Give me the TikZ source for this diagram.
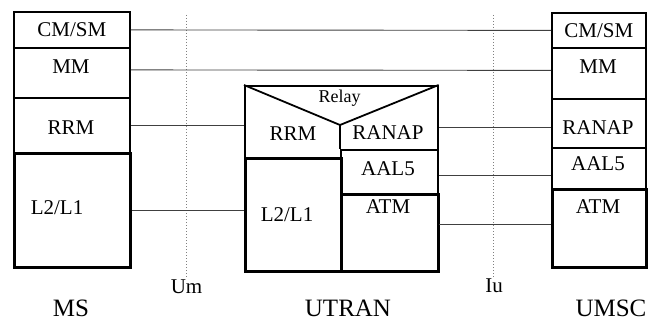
\documentclass[tikz,border=0pt]{standalone}
\usepackage{fontspec}
\setmainfont{Liberation Serif}
\usetikzlibrary{calc}
\begin{document}
\begin{tikzpicture}[x=1pt,y=-1pt,
  box/.style={draw,line width=1.8pt,inner sep=0pt,anchor=north west},
  thickbox/.style={box,line width=2.6pt},
  txt/.style={inner sep=0pt,font=\fontsize{21}{21}\selectfont},
  small/.style={inner sep=0pt,font=\fontsize{18}{18}\selectfont},
  iface/.style={inner sep=0pt,font=\fontsize{21}{21}\selectfont},
  big/.style={inner sep=0pt,font=\fontsize{25}{25}\selectfont},
  conn/.style={line width=0.9pt,black!75},
  sep/.style={line width=1pt,gray,dotted}]
\useasboundingbox (0,0) rectangle (651,321);
% MS stack
\node[box,minimum width=116pt,minimum height=36pt] (msCM) at (13,11) {};
\node[box,minimum width=116pt,minimum height=50pt] (msMM) at (13,47) {};
\node[box,minimum width=116pt,minimum height=55pt] (msRRM) at (13,97) {};
\node[thickbox,minimum width=116pt,minimum height=114pt] (msL2) at (13,152) {};
\node[txt] at (msCM.center) {CM/SM};
\node[txt] at (71,67) {MM};
\node[txt] at (71,128) {RRM};
\node[txt] at (57,208) {L2/L1};
% UMSC stack
\node[box,minimum width=94pt,minimum height=35pt] (umCM) at (551,12) {};
\node[box,minimum width=94pt,minimum height=51pt] (umMM) at (551,47) {};
\node[box,minimum width=94pt,minimum height=49pt] (umRANAP) at (551,98) {};
\node[box,minimum width=94pt,minimum height=41pt] (umAAL5) at (551,147) {};
\node[thickbox,minimum width=94pt,minimum height=78pt] (umATM) at (551,188) {};
\node[txt] at (umCM.center) {CM/SM};
\node[txt] at (598,67) {MM};
\node[txt] at (598,128) {RANAP};
\node[txt] at (598,164) {AAL5};
\node[txt] at (598,207) {ATM};
% UTRAN
\node[box,line width=1.6pt,minimum width=193pt,minimum height=185pt] (utran) at (244,85) {};
\coordinate (apex) at (340,125);
\node[thickbox,minimum width=96pt,minimum height=113pt] (uL2) at (244,157) {};
\node[box,minimum width=97pt,minimum height=44pt] (uAAL5) at (340,149) {};
\node[thickbox,minimum width=97pt,minimum height=77pt] (uATM) at (340,193) {};
\draw[line width=1.8pt] (utran.north west) -- (apex) -- (utran.north east);
\draw[line width=1.8pt] (apex) -- (apex |- uAAL5.north);
\node[small] at (339.5,98.5) {Relay};
\node[txt] at (293,134) {RRM};
\node[txt] at (388,133) {RANAP};
\node[txt] at (388,169) {AAL5};
\node[txt] at (388,207) {ATM};
\node[txt] at (287,215) {L2/L1};
% separators
\coordinate (umTop) at (186,15);
\coordinate (umBot) at (186,277);
\coordinate (iuTop) at (493,15);
\coordinate (iuBot) at (493,277);
\draw[sep] (umTop) -- (umBot);
\draw[sep] (iuTop) -- (iuBot);
% connectors
\draw[conn] (msCM.east) -- (umCM.west);
\draw[conn] ([yshift=3pt]msMM.east) -- ([yshift=3pt]umMM.west);
\draw[conn] (msRRM.east) -- (msRRM.east -| utran.west);
\draw[conn] (msL2.east) -- (msL2.east -| uL2.west);
\draw[conn] ([yshift=-4.5pt]umRANAP.west) -- ([yshift=-4.5pt]umRANAP.west -| utran.east);
\draw[conn] ([yshift=-7.5pt]umAAL5.west) -- ([yshift=-7.5pt]umAAL5.west -| utran.east);
\draw[conn] ([yshift=4pt]umATM.west) -- ([yshift=4pt]umATM.west -| utran.east);
% labels
\node[iface] at (186.5,286.5) {Um};
\node[iface] at (494,286) {Iu};
\node[big] at (71,308) {MS};
\node[big] at (348,308) {UTRAN};
\node[big] at (611,308) {UMSC};
\end{tikzpicture}
\end{document}
